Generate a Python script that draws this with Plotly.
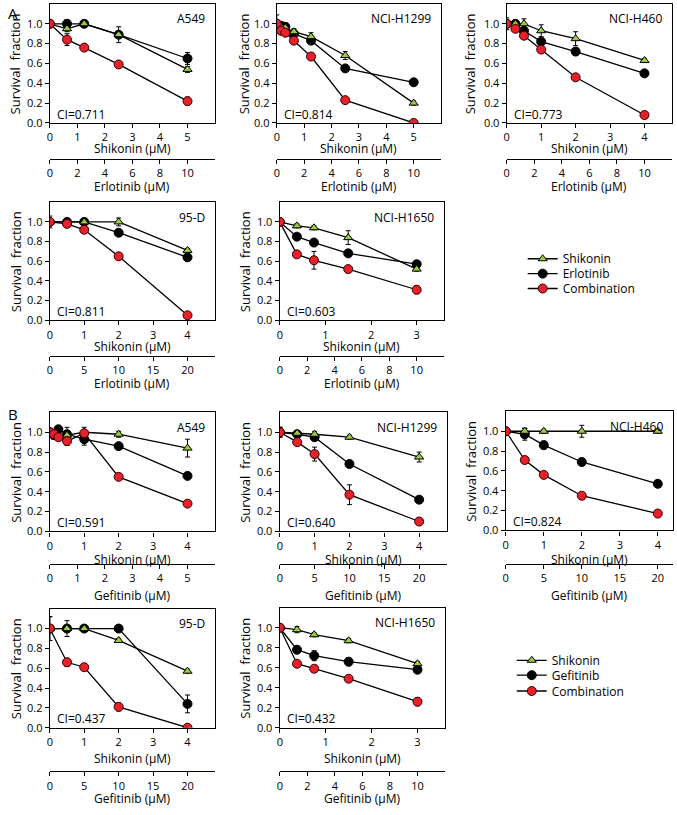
import plotly.graph_objects as go

# ---------------- DATA ----------------
# Panel A (Shikonin + Erlotinib)
A_A549_SHK_DOSE = [0, 0.625, 1.25, 2.5, 5]
A_A549_DRUG_DOSE = [0, 1.25, 2.5, 5, 10]
A_A549_SHK = [1.0, 0.95, 1.0, 0.89, 0.54]
A_A549_SHK_ERR = [0.02, 0.03, 0.02, 0.03, 0.03]
A_A549_DRUG = [1.0, 1.0, 1.0, 0.89, 0.65]
A_A549_DRUG_ERR = [0.02, 0.04, 0.02, 0.08, 0.06]
A_A549_CMB = [1.0, 0.84, 0.76, 0.59, 0.22]
A_A549_CMB_ERR = [0.02, 0.06, 0.02, 0.02, 0.04]

A_H1299_SHK_DOSE = [0, 0.156, 0.3125, 0.625, 1.25, 2.5, 5]
A_H1299_DRUG_DOSE = [0, 0.3125, 0.625, 1.25, 2.5, 5, 10]
A_H1299_SHK = [1.0, 0.97, 0.96, 0.92, 0.87, 0.68, 0.20]
A_H1299_SHK_ERR = [0.09, 0.04, 0.03, 0.03, 0.04, 0.04, 0.02]
A_H1299_DRUG = [1.0, 0.98, 0.97, 0.90, 0.83, 0.55, 0.41]
A_H1299_DRUG_ERR = [0.03, 0.03, 0.03, 0.02, 0.03, 0.02, 0.02]
A_H1299_CMB = [1.0, 0.93, 0.91, 0.83, 0.67, 0.23, 0.0]
A_H1299_CMB_ERR = [0.02, 0.02, 0.02, 0.02, 0.02, 0.02, 0.01]

A_H460_SHK_DOSE = [0, 0.25, 0.5, 1, 2, 4]
A_H460_DRUG_DOSE = [0, 0.625, 1.25, 2.5, 5, 10]
A_H460_SHK = [1.0, 1.0, 1.0, 0.93, 0.85, 0.63]
A_H460_SHK_ERR = [0.06, 0.02, 0.05, 0.06, 0.07, 0.02]
A_H460_DRUG = [1.0, 1.0, 0.93, 0.82, 0.72, 0.50]
A_H460_DRUG_ERR = [0.02, 0.02, 0.03, 0.03, 0.04, 0.02]
A_H460_CMB = [1.0, 0.95, 0.88, 0.74, 0.46, 0.08]
A_H460_CMB_ERR = [0.02, 0.02, 0.02, 0.02, 0.02, 0.01]

A_95D_SHK_DOSE = [0, 0.5, 1, 2, 4]
A_95D_DRUG_DOSE = [0, 2.5, 5, 10, 20]
A_95D_SHK = [1.0, 1.0, 1.0, 1.0, 0.71]
A_95D_SHK_ERR = [0.06, 0.02, 0.02, 0.04, 0.02]
A_95D_DRUG = [1.0, 1.0, 1.0, 0.89, 0.64]
A_95D_DRUG_ERR = [0.02, 0.02, 0.03, 0.02, 0.04]
A_95D_CMB = [1.0, 0.98, 0.92, 0.65, 0.05]
A_95D_CMB_ERR = [0.02, 0.02, 0.03, 0.01, 0.01]

A_H1650_SHK_DOSE = [0, 0.375, 0.75, 1.5, 3]
A_H1650_DRUG_DOSE = [0, 1.25, 2.5, 5, 10]
A_H1650_SHK = [1.0, 0.96, 0.94, 0.84, 0.52]
A_H1650_SHK_ERR = [0.02, 0.02, 0.02, 0.07, 0.02]
A_H1650_DRUG = [1.0, 0.85, 0.79, 0.68, 0.57]
A_H1650_DRUG_ERR = [0.02, 0.02, 0.02, 0.02, 0.02]
A_H1650_CMB = [1.0, 0.67, 0.61, 0.52, 0.31]
A_H1650_CMB_ERR = [0.02, 0.03, 0.09, 0.02, 0.04]

# Panel B (Shikonin + Gefitinib)
B_A549_SHK_DOSE = [0, 0.125, 0.25, 0.5, 1, 2, 4]
B_A549_DRUG_DOSE = [0, 0.156, 0.3125, 0.625, 1.25, 2.5, 5]
B_A549_SHK = [1.0, 0.97, 0.96, 0.97, 1.0, 0.98, 0.84]
B_A549_SHK_ERR = [0.02, 0.03, 0.03, 0.03, 0.02, 0.03, 0.09]
B_A549_DRUG = [1.0, 0.97, 1.03, 0.98, 0.93, 0.86, 0.56]
B_A549_DRUG_ERR = [0.02, 0.04, 0.03, 0.07, 0.06, 0.02, 0.02]
B_A549_CMB = [1.0, 0.98, 0.95, 0.91, 0.99, 0.55, 0.28]
B_A549_CMB_ERR = [0.02, 0.02, 0.02, 0.04, 0.06, 0.02, 0.02]

B_H1299_SHK_DOSE = [0, 0.5, 1, 2, 4]
B_H1299_DRUG_DOSE = [0, 2.5, 5, 10, 20]
B_H1299_SHK = [1.0, 0.99, 0.98, 0.95, 0.75]
B_H1299_SHK_ERR = [0.05, 0.02, 0.03, 0.02, 0.05]
B_H1299_DRUG = [1.0, 0.98, 0.95, 0.68, 0.32]
B_H1299_DRUG_ERR = [0.05, 0.02, 0.03, 0.02, 0.03]
B_H1299_CMB = [1.0, 0.90, 0.78, 0.37, 0.10]
B_H1299_CMB_ERR = [0.05, 0.02, 0.07, 0.10, 0.02]

B_H460_SHK_DOSE = [0, 0.5, 1, 2, 4]
B_H460_DRUG_DOSE = [0, 2.5, 5, 10, 20]
B_H460_SHK = [1.0, 1.0, 1.0, 1.0, 1.0]
B_H460_SHK_ERR = [0.03, 0.03, 0.02, 0.06, 0.02]
B_H460_DRUG = [1.0, 0.97, 0.86, 0.69, 0.47]
B_H460_DRUG_ERR = [0.03, 0.06, 0.04, 0.02, 0.02]
B_H460_CMB = [1.0, 0.71, 0.56, 0.35, 0.17]
B_H460_CMB_ERR = [0.02, 0.02, 0.03, 0.02, 0.02]

B_95D_SHK_DOSE = [0, 0.5, 1, 2, 4]
B_95D_DRUG_DOSE = [0, 2.5, 5, 10, 20]
B_95D_SHK = [1.0, 1.0, 1.0, 0.88, 0.57]
B_95D_SHK_ERR = [0.12, 0.02, 0.02, 0.02, 0.02]
B_95D_DRUG = [1.0, 1.0, 1.0, 1.0, 0.24]
B_95D_DRUG_ERR = [0.12, 0.08, 0.03, 0.02, 0.09]
B_95D_CMB = [1.0, 0.66, 0.61, 0.21, 0.0]
B_95D_CMB_ERR = [0.02, 0.04, 0.02, 0.04, 0.01]

B_H1650_SHK_DOSE = [0, 0.375, 0.75, 1.5, 3]
B_H1650_DRUG_DOSE = [0, 1.25, 2.5, 5, 10]
B_H1650_SHK = [1.0, 0.98, 0.93, 0.87, 0.64]
B_H1650_SHK_ERR = [0.03, 0.03, 0.02, 0.02, 0.02]
B_H1650_DRUG = [1.0, 0.78, 0.72, 0.66, 0.58]
B_H1650_DRUG_ERR = [0.03, 0.02, 0.05, 0.04, 0.02]
B_H1650_CMB = [1.0, 0.64, 0.59, 0.49, 0.26]
B_H1650_CMB_ERR = [0.03, 0.02, 0.02, 0.02, 0.04]

CELL_NAMES = ["A549", "NCI-H1299", "NCI-H460", "95-D", "NCI-H1650",
              "A549", "NCI-H1299", "NCI-H460", "95-D", "NCI-H1650"]
CI_VALUES = ["0.711", "0.814", "0.773", "0.811", "0.603",
             "0.591", "0.640", "0.824", "0.437", "0.432"]
DRUG_NAMES = ["Erlotinib"] * 5 + ["Gefitinib"] * 5
Y_TICKS = [0.0, 0.2, 0.4, 0.6, 0.8, 1.0]
SERIES_NAMES_A = ["Shikonin", "Erlotinib", "Combination"]
SERIES_NAMES_B = ["Shikonin", "Gefitinib", "Combination"]

# ---------------- LAYOUT HELPERS ----------------
W, H = 677, 815
FONT = "Open Sans, Noto Sans, sans-serif"
RED = "#e8202a"
GREEN = "#9ccb3b"


def fx(p):
    return p / W


def fy(p):
    return 1 - p / H


series = [
    (A_A549_SHK_DOSE, A_A549_DRUG_DOSE, A_A549_SHK, A_A549_SHK_ERR, A_A549_DRUG, A_A549_DRUG_ERR, A_A549_CMB, A_A549_CMB_ERR),
    (A_H1299_SHK_DOSE, A_H1299_DRUG_DOSE, A_H1299_SHK, A_H1299_SHK_ERR, A_H1299_DRUG, A_H1299_DRUG_ERR, A_H1299_CMB, A_H1299_CMB_ERR),
    (A_H460_SHK_DOSE, A_H460_DRUG_DOSE, A_H460_SHK, A_H460_SHK_ERR, A_H460_DRUG, A_H460_DRUG_ERR, A_H460_CMB, A_H460_CMB_ERR),
    (A_95D_SHK_DOSE, A_95D_DRUG_DOSE, A_95D_SHK, A_95D_SHK_ERR, A_95D_DRUG, A_95D_DRUG_ERR, A_95D_CMB, A_95D_CMB_ERR),
    (A_H1650_SHK_DOSE, A_H1650_DRUG_DOSE, A_H1650_SHK, A_H1650_SHK_ERR, A_H1650_DRUG, A_H1650_DRUG_ERR, A_H1650_CMB, A_H1650_CMB_ERR),
    (B_A549_SHK_DOSE, B_A549_DRUG_DOSE, B_A549_SHK, B_A549_SHK_ERR, B_A549_DRUG, B_A549_DRUG_ERR, B_A549_CMB, B_A549_CMB_ERR),
    (B_H1299_SHK_DOSE, B_H1299_DRUG_DOSE, B_H1299_SHK, B_H1299_SHK_ERR, B_H1299_DRUG, B_H1299_DRUG_ERR, B_H1299_CMB, B_H1299_CMB_ERR),
    (B_H460_SHK_DOSE, B_H460_DRUG_DOSE, B_H460_SHK, B_H460_SHK_ERR, B_H460_DRUG, B_H460_DRUG_ERR, B_H460_CMB, B_H460_CMB_ERR),
    (B_95D_SHK_DOSE, B_95D_DRUG_DOSE, B_95D_SHK, B_95D_SHK_ERR, B_95D_DRUG, B_95D_DRUG_ERR, B_95D_CMB, B_95D_CMB_ERR),
    (B_H1650_SHK_DOSE, B_H1650_DRUG_DOSE, B_H1650_SHK, B_H1650_SHK_ERR, B_H1650_DRUG, B_H1650_DRUG_ERR, B_H1650_CMB, B_H1650_CMB_ERR),
]

# pixel geometry: box (x0, x1, y0, y1), drug-axis line y,
# shikonin (range, last tick, step), drug (range, last tick, step),
# shikonin title y, drug title y, y-title x
geom = [
    ((47, 213, 4, 124), 160, (6, 5, 1), (12, 10, 2), 150, 188, 13),
    ((275, 440, 4, 124), 160, (6, 5, 1), (12, 10, 2), 150, 188, 243),
    ((506, 672, 4, 124), 160, (4.8, 4, 1), (12, 10, 2), 150, 188, 470),
    ((47, 213, 204, 323), 359, (4.8, 4, 1), (24, 20, 5), 350, 387, 13),
    ((278, 443, 204, 323), 359, (3.6, 3, 1), (12, 10, 2), 350, 387, 243),
    ((47, 213, 416, 536), 569, (4.8, 4, 1), (6, 5, 1), 564, 601, 13),
    ((278, 446, 416, 536), 569, (4.8, 4, 1), (24, 20, 5), 564, 601, 243),
    ((505, 673, 415, 535), 569, (4.4, 4, 1), (22, 20, 5), 564, 601, 470),
    ((47, 213, 614, 734), 778, (4.8, 4, 1), (24, 20, 5), 765, 805, 13),
    ((278, 444, 613, 734), 778, (3.6, 3, 1), (12, 10, 2), 765, 805, 243),
]

# legend entry anchor positions (pixels)
legend_pos_A = [261, 276, 291]
legend_pos_B = [666, 681, 697]
LEG_X_A = 522
LEG_X_B = 511


def ax_key(letter, n):
    return (f"{letter}axis" if n == 1 else f"{letter}axis{n}"), (letter if n == 1 else f"{letter}{n}")


fig = go.Figure()
layout = {}
annotations = []

tickfont = dict(family=FONT, size=11, color="black")


def ebar(arr):
    return dict(type="data", array=arr, visible=True, color="black", thickness=1, width=2.5)


legends = {}
for k, (data, g) in enumerate(zip(series, geom)):
    shk_dose, drug_dose, shk, shk_err, drug, drug_err, cmb, cmb_err = data
    (x0, x1, y0, y1), line_y, (s_rng, s_last, s_step), (d_rng, d_last, d_step), shk_ty, drug_ty, ytx = g
    dkey, did = ax_key("x", 2 * k + 1)
    skey, sid = ax_key("x", 2 * k + 2)
    ykey, yid = ax_key("y", k + 1)

    show = k in (0, 5)
    base = 0 if k == 0 else 3
    leg_ids = [("legend" if base + i == 0 else f"legend{base + i + 1}") for i in range(3)]
    names = SERIES_NAMES_A if k < 5 else SERIES_NAMES_B

    # drug (base axis, drawn beneath)
    fig.add_trace(go.Scatter(
        x=drug_dose, y=drug, xaxis=did, yaxis=yid, mode="lines+markers",
        name=names[1], showlegend=show, legend=leg_ids[1],
        line=dict(color="black", width=1.3),
        marker=dict(symbol="circle", size=9, color="black", line=dict(color="black", width=1)),
        error_y=ebar(drug_err)))
    # shikonin
    fig.add_trace(go.Scatter(
        x=shk_dose, y=shk, xaxis=sid, yaxis=yid, mode="lines+markers",
        name=names[0], showlegend=show, legend=leg_ids[0],
        line=dict(color="black", width=1.3),
        marker=dict(symbol="triangle-up", size=8, color=GREEN, line=dict(color="black", width=1)),
        error_y=ebar(shk_err)))
    # combination
    fig.add_trace(go.Scatter(
        x=shk_dose, y=cmb, xaxis=sid, yaxis=yid, mode="lines+markers",
        name=names[2], showlegend=show, legend=leg_ids[2],
        line=dict(color="black", width=1.3),
        marker=dict(symbol="circle", size=9, color=RED, line=dict(color="#300", width=1)),
        error_y=ebar(cmb_err)))

    if show:
        ys = legend_pos_A if k == 0 else legend_pos_B
        lx = LEG_X_A if k == 0 else LEG_X_B
        for lid, ly in zip(leg_ids, ys):
            legends[lid] = dict(x=fx(lx), y=fy(ly), xanchor="left", yanchor="middle",
                                bgcolor="rgba(0,0,0,0)", borderwidth=0,
                                font=dict(family=FONT, size=12, color="black"),
                                itemwidth=30)

    layout[dkey] = dict(
        domain=[fx(x0), fx(x1)], anchor="free", position=fy(line_y),
        range=[0, d_rng], tickvals=list(range(0, d_last + 1, d_step)),
        showgrid=False, zeroline=False,
        showline=True, linecolor="black", linewidth=1.3, ticks="outside", ticklen=4,
        tickwidth=1.3, tickcolor="black", tickfont=tickfont)
    layout[skey] = dict(
        overlaying=did, anchor=yid, side="bottom",
        range=[0, s_rng], tickvals=list(range(0, s_last + 1, s_step)),
        showgrid=False, zeroline=False,
        showline=True, mirror=True, linecolor="black", linewidth=1.3, ticks="outside",
        ticklen=4, tickwidth=1.3, tickcolor="black", tickfont=tickfont)
    layout[ykey] = dict(
        domain=[fy(y1), fy(y0)], anchor=did, range=[0, 1.2],
        tickvals=Y_TICKS, ticktext=[f"{v:.1f}" for v in Y_TICKS],
        showgrid=False, zeroline=False, showline=True, mirror=True,
        linecolor="black", linewidth=1.3, ticks="outside", ticklen=4, tickwidth=1.3,
        tickcolor="black", tickfont=tickfont)

    cx = (x0 + x1) / 2
    annotations += [
        dict(text="Shikonin (μM)", x=fx(cx), y=fy(shk_ty), xref="paper", yref="paper",
             showarrow=False, xanchor="center", yanchor="middle",
             font=dict(family=FONT, size=12, color="black")),
        dict(text=f"{DRUG_NAMES[k]} (μM)", x=fx(cx), y=fy(drug_ty), xref="paper", yref="paper",
             showarrow=False, xanchor="center", yanchor="middle",
             font=dict(family=FONT, size=12, color="black")),
        dict(text="Survival\u00a0 fraction", x=fx(ytx), y=fy((y0 + y1) / 2), xref="paper",
             yref="paper", showarrow=False, textangle=-90, xanchor="center", yanchor="middle",
             font=dict(family=FONT, size=13, color="black")),
        dict(text=CELL_NAMES[k], x=fx(x1 - 8), y=fy(y0 + 15), xref="paper", yref="paper",
             showarrow=False, xanchor="right", yanchor="middle",
             font=dict(family=FONT, size=12, color="black")),
        dict(text=f"CI={CI_VALUES[k]}", x=fx(x0 + 5), y=fy(y1 - 9), xref="paper", yref="paper",
             showarrow=False, xanchor="left", yanchor="middle",
             font=dict(family=FONT, size=12, color="black")),
    ]

annotations += [
    dict(text="A", x=fx(10), y=fy(13), xref="paper", yref="paper", showarrow=False,
         xanchor="center", yanchor="middle", font=dict(family=FONT, size=15, color="black")),
    dict(text="B", x=fx(10), y=fy(418), xref="paper", yref="paper", showarrow=False,
         xanchor="center", yanchor="middle", font=dict(family=FONT, size=15, color="black")),
]

fig.update_layout(
    width=W, height=H, margin=dict(l=0, r=0, t=0, b=0),
    paper_bgcolor="white", plot_bgcolor="white",
    font=dict(family=FONT, color="black"),
    annotations=annotations,
    **legends,
    **layout,
)

fig.write_html(
    "out.html",
    config={"displayModeBar": False},
    post_script="document.body.style.margin='0';document.body.style.overflow='hidden';",
)
